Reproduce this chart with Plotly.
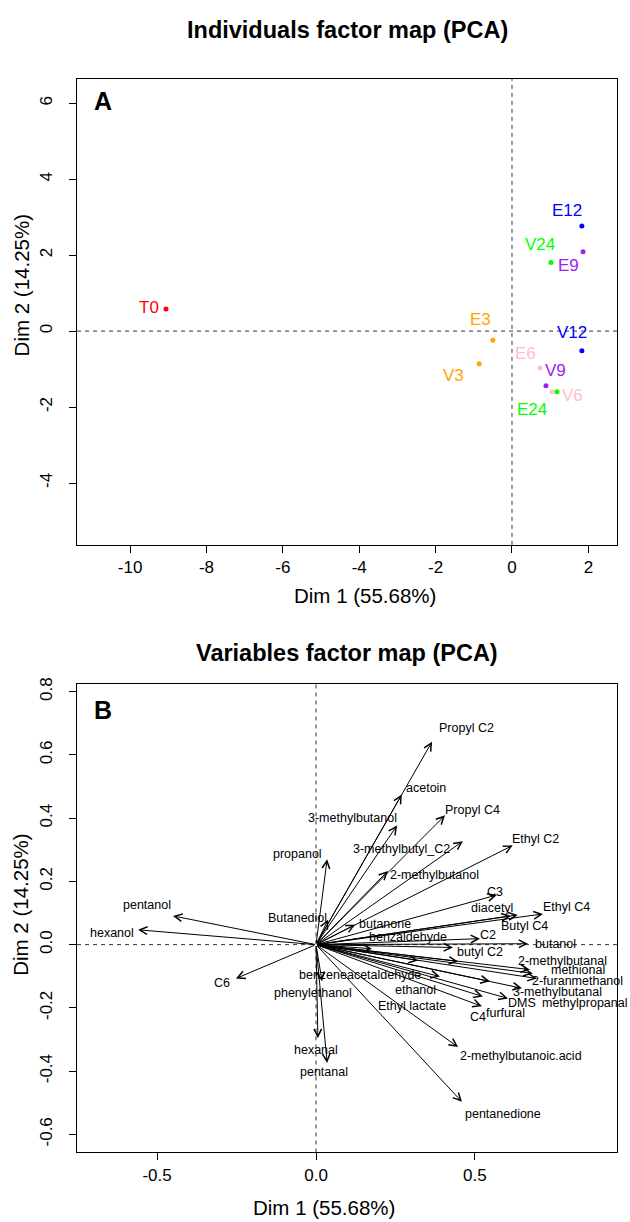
import plotly.graph_objects as go

W, H = 630, 1222
FONT = "Liberation Sans, Arial, Helvetica, sans-serif"

# ---- Individuals factor map (panel A) ----
ind_names = ['T0', 'E3', 'V3', 'E6', 'V6', 'E9', 'V9', 'E12', 'V12', 'E24', 'V24']
ind_dim1 = [-9.06, -0.50, -0.86, 0.73, 1.05, 1.86, 0.89, 1.83, 1.83, 1.18, 1.02]
ind_dim2 = [0.58, -0.24, -0.86, -0.97, -1.60, 2.09, -1.44, 2.77, -0.52, -1.60, 1.81]

# colour by sampling time
time_colors = {'0': 'red', '3': 'orange', '6': 'pink', '9': '#A020F0',
               '12': 'blue', '24': '#00FF00'}
# label offsets in pixels (dx, dy up)
ind_label_shift = {'T0': (-17, 2), 'E3': (-12, 21), 'V3': (-26, -12), 'E6': (-14, 14),
                   'V6': (20, -4), 'E9': (-15, -14), 'V9': (10, 15), 'E12': (-15, 15),
                   'V12': (-10, 18), 'E24': (-25, -18), 'V24': (-11, 18)}

# ---- Variables factor map (panel B) ----
var_names = ['Propyl C2', 'acetoin', '3-methylbutanol', 'Propyl C4', '3-methylbutyl_C2',
             'Ethyl C2', '2-methylbutanol', 'propanol', 'pentanol', 'hexanol', 'C3',
             'diacetyl', 'Ethyl C4', 'Butyl C4', 'Butanediol', 'butanone', 'benzaldehyde',
             'C2', 'butanol', 'butyl C2', '2-methylbutanal', 'methional', '2-furanmethanol',
             '3-methylbutanal', 'methylpropanal', 'DMS', 'furfural', 'C4', 'ethanol',
             'Ethyl lactate', 'benzeneacetaldehyde', 'phenylethanol', 'C6', 'hexanal',
             'pentanal', '2-methylbutanoic.acid', 'pentanedione']
var_dim1 = [0.365, 0.270, 0.255, 0.406, 0.462,
            0.619, 0.226, 0.035, -0.450, -0.560, 0.569,
            0.613, 0.714, 0.635, 0.038, 0.123, 0.176,
            0.516, 0.667, 0.431, 0.673, 0.682, 0.695,
            0.648, 0.547, 0.604, 0.525, 0.522, 0.390,
            0.447, 0.321, 0.019, -0.252, 0.006,
            0.035, 0.447, 0.459]
var_dim2 = [0.642, 0.475, 0.377, 0.409, 0.327,
            0.314, 0.233, 0.270, 0.091, 0.047, 0.157,
            0.091, 0.097, 0.094, 0.079, 0.063, -0.013,
            0.019, 0.003, -0.009, -0.079, -0.091, -0.107,
            -0.138, -0.116, -0.170, -0.164, -0.195, -0.101,
            -0.053, -0.050, -0.116, -0.107, -0.296,
            -0.374, -0.324, -0.497]
var_label_shift = {'Propyl C2': (34, 14), 'acetoin': (24, 6), '3-methylbutanol': (-45, 7),
                   'Propyl C4': (27, 5), '3-methylbutyl_C2': (-61, -8), 'Ethyl C2': (23, 6),
                   '2-methylbutanol': (47, -4), 'propanol': (-30, 5), 'pentanol': (-26, 11),
                   'hexanol': (-26, -3), 'C3': (-2, 3), 'diacetyl': (-19, 8),
                   'Ethyl C4': (24, 7), 'Butyl C4': (7, -11), 'Butanediol': (-31, 2),
                   'butanone': (30, 1), 'benzaldehyde': (36, 12), 'C2': (8, 4),
                   'butanol': (27, 0), 'butyl C2': (27, -5), '2-methylbutanal': (33, 9),
                   'methional': (45, 3), '2-furanmethanol': (41, -3), '3-methylbutanal': (36, -4),
                   'methylpropanal': (95, -22), 'DMS': (14, -5), 'furfural': (23, -16),
                   'C4': (-4, -11), 'ethanol': (-24, -13), 'Ethyl lactate': (-46, -45),
                   'benzeneacetaldehyde': (-58, -15), 'phenylethanol': (-9, -12),
                   'C6': (-14, -5), 'hexanal': (-2, -12), 'pentanal': (-3, -9),
                   '2-methylbutanoic.acid': (63, -9), 'pentanedione': (41, -12)}

# axis ticks
a_xticks = [-10, -8, -6, -4, -2, 0, 2]
a_yticks = [-4, -2, 0, 2, 4, 6]
b_xticks = [-0.5, 0.0, 0.5]
b_yticks = [-0.6, -0.4, -0.2, 0.0, 0.2, 0.4, 0.6, 0.8]


def px(x):
    return x / W


def py(y):
    return 1 - y / H


def axis_style(**kw):
    d = dict(showline=True, mirror=True, linecolor='black', linewidth=1,
             ticks='outside', ticklen=7, tickwidth=1, tickcolor='black',
             showgrid=False, zeroline=False,
             tickfont=dict(size=17, family=FONT, color='black'))
    d.update(kw)
    return d


fig = go.Figure()

# individuals
for name, x, y in zip(ind_names, ind_dim1, ind_dim2):
    col = time_colors[name[1:]]
    fig.add_trace(go.Scatter(x=[x], y=[y], mode='markers', xaxis='x', yaxis='y',
                             marker=dict(size=5, color=col), hoverinfo='skip'))
    dx, dy = ind_label_shift[name]
    fig.add_annotation(x=x, y=y, xref='x', yref='y', text=name, showarrow=False,
                       xshift=dx, yshift=dy, font=dict(size=17, color=col, family=FONT))

# variables: arrows from the origin
for name, x, y in zip(var_names, var_dim1, var_dim2):
    fig.add_annotation(x=x, y=y, ax=0, ay=0, xref='x2', yref='y2', axref='x2', ayref='y2',
                       text='', showarrow=True, arrowhead=5, arrowsize=1.5, arrowwidth=1,
                       arrowcolor='black', standoff=0, startstandoff=0)
    dx, dy = var_label_shift[name]
    fig.add_annotation(x=x, y=y, xref='x2', yref='y2', text=name, showarrow=False,
                       xshift=dx, yshift=dy, font=dict(size=12.5, color='black', family=FONT))

# dashed zero lines
dash = dict(color='#333', width=1, dash='4px,4px')
for xr, yr in [('x', 'y'), ('x2', 'y2')]:
    fig.add_shape(type='line', xref=xr, yref=yr + ' domain', x0=0, x1=0, y0=0, y1=1, line=dash)
    fig.add_shape(type='line', xref=xr + ' domain', yref=yr, x0=0, x1=1, y0=0, y1=0, line=dash)

# titles, panel letters, axis titles
texts = [
    ('<b>Individuals factor map (PCA)</b>', 347, 23, 23.5, 0),
    ('<b>Variables factor map (PCA)</b>', 347, 650, 23.5, 0),
    ('<b>A</b>', 103, 95, 25, 0),
    ('<b>B</b>', 103, 707, 25, 0),
    ('Dim 1 (55.68%)', 365, 592, 20.5, 0),
    ('Dim 1 (55.68%)', 324, 1207, 20.5, 0),
    ('Dim 2 (14.25%)', 21, 280, 20.5, -90),
    ('Dim 2 (14.25%)', 21, 903, 20.5, -90),
]
for t, x, y, s, ang in texts:
    fig.add_annotation(x=px(x), y=py(y), xref='paper', yref='paper', text=t, showarrow=False,
                       xanchor='center', yanchor='middle', textangle=ang,
                       font=dict(size=s, color='black', family=FONT))

fig.update_layout(
    width=W, height=H, autosize=False,
    margin=dict(l=0, r=0, t=0, b=0),
    plot_bgcolor='white', paper_bgcolor='white',
    showlegend=False,
    font=dict(family=FONT, color='black'),
    xaxis=axis_style(domain=[px(77), px(617)], anchor='y', range=[-11.39, 2.75],
                     tickvals=a_xticks, ticktext=[f'{v:g}' for v in a_xticks],
                     ticklabelstandoff=0),
    yaxis=axis_style(domain=[py(541), py(72)], anchor='x', range=[-5.63, 6.65],
                     tickvals=a_yticks, ticktext=[f'{v:g}' for v in a_yticks],
                     tickangle=-90, ticklabelstandoff=10),
    xaxis2=axis_style(domain=[px(77), px(617)], anchor='y2', range=[-0.752, 0.947],
                      tickvals=b_xticks, ticktext=[f'{v:.1f}' for v in b_xticks],
                      ticklabelstandoff=0),
    yaxis2=axis_style(domain=[py(1152), py(681)], anchor='x2', range=[-0.657, 0.824],
                      tickvals=b_yticks, ticktext=[f'{v:.1f}' for v in b_yticks],
                      tickangle=-90, ticklabelstandoff=10),
)

fig.write_html("out.html", config={'displayModeBar': False},
               post_script="document.body.style.margin='0';document.body.style.overflow='hidden';")
